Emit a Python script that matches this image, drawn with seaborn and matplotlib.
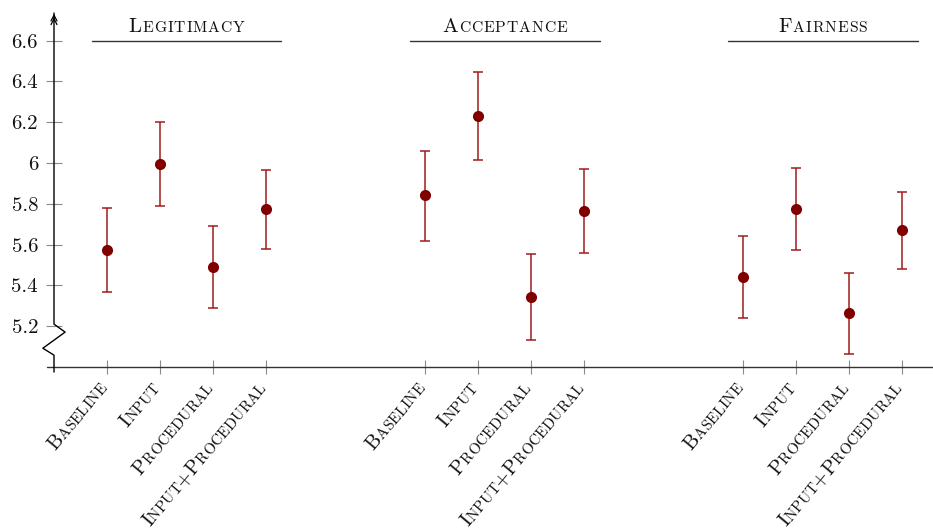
import numpy as np
import pandas as pd
import matplotlib
matplotlib.use("Agg")
import matplotlib.pyplot as plt
import seaborn as sns
from matplotlib.font_manager import FontProperties
from matplotlib.textpath import text_to_path

# data
groups = ["Legitimacy", "Acceptance", "Fairness"]
conditions = ["Baseline", "Input", "Procedural", "Input+Procedural"]

legit_mean = [5.572, 5.996, 5.488, 5.772]
legit_lo = [5.367, 5.788, 5.288, 5.577]
legit_hi = [5.780, 6.199, 5.690, 5.965]

accept_mean = [5.841, 6.228, 5.343, 5.764]
accept_lo = [5.620, 6.013, 5.131, 5.557]
accept_hi = [6.061, 6.444, 5.554, 5.971]

fair_mean = [5.441, 5.775, 5.264, 5.670]
fair_lo = [5.238, 5.573, 5.064, 5.479]
fair_hi = [5.643, 5.976, 5.462, 5.860]

yticks = [5.2, 5.4, 5.6, 5.8, 6.0, 6.2, 6.4, 6.6]
ytick_labels = ["5.2", "5.4", "5.6", "5.8", "6", "6.2", "6.4", "6.6"]

rows = []
for g, (m, lo, hi) in enumerate([(legit_mean, legit_lo, legit_hi),
                                 (accept_mean, accept_lo, accept_hi),
                                 (fair_mean, fair_lo, fair_hi)]):
    for i, c in enumerate(conditions):
        rows.append({"group": groups[g], "condition": c, "pos": 1 + 6 * g + i,
                     "mean": m[i], "lo": lo[i], "hi": hi[i]})
df = pd.DataFrame(rows)

sns.set_theme(style="white")
plt.rcParams["font.family"] = ["cmr10", "DejaVu Serif"]
plt.rcParams["axes.formatter.use_mathtext"] = True

FS = 15
FS_LABEL = 14.5
SMALL = 0.75


def text_width(s, size):
    w, _, _ = text_to_path.get_text_width_height_descent(
        s, FontProperties(family="cmr10", size=size), ismath=False)
    return w


def smallcaps(ax, x, y, word, size=FS, rot=0, ha="left", dx=0, dy=0, track=0.0):
    # fake small caps: lower case letters drawn as smaller capitals, one glyph at a time
    chars = [(ch.upper(), size * SMALL if ch.islower() else size) for ch in word]
    widths = [text_width(t, sz) + track for t, sz in chars]
    total = sum(widths) - track
    c, s = np.cos(np.radians(rot)), np.sin(np.radians(rot))
    pos = -{"left": 0, "center": total / 2, "right": total}[ha]
    for (t, sz), w in zip(chars, widths):
        ax.annotate(t, xy=(x, y), xycoords="data",
                    xytext=(dx + pos * c, dy + pos * s), textcoords="offset points",
                    rotation=rot, rotation_mode="anchor", ha="left", va="baseline",
                    fontsize=sz, color="#111111", annotation_clip=False)
        pos += w


fig = plt.figure(figsize=(9.33, 5.29), dpi=100)
ax = fig.add_axes([54 / 933, (529 - 367) / 529, 1 - 54 / 933, 355 / 529])

ax.errorbar(df["pos"], df["mean"], yerr=[df["mean"] - df["lo"], df["hi"] - df["mean"]],
            fmt="none", ecolor="#a11d1d", elinewidth=1.1, capsize=3.8, capthick=1.1, zorder=2)
sns.scatterplot(data=df, x="pos", y="mean", ax=ax, color="#800000", s=64,
                linewidth=0, zorder=3, legend=False)

ax.set_xlim(0, 16.58)
ax.set_ylim(5.0, 6.74)
for sp in ax.spines.values():
    sp.set_visible(False)

ax.set_yticks(yticks)
ax.set_yticklabels(ytick_labels, fontsize=FS, color="#111111")
ax.set_xticks(df["pos"])
ax.set_xticklabels([])
ax.tick_params(axis="y", direction="inout", length=12, width=0.8, color="#8a8a8a", pad=5.5, left=True)
ax.tick_params(axis="x", direction="inout", length=10, width=0.8, color="#8a8a8a", bottom=True)
ax.set_xlabel("")
ax.set_ylabel("")

# x axis line
ax.plot([-0.13, 16.58], [5.0, 5.0], color="#333333", lw=1.0, clip_on=False, zorder=1)
# y axis with break (zigzag)
ax.plot([0, 0, 0.21, -0.21, 0, 0], [6.735, 5.21, 5.171, 5.092, 5.058, 4.975],
        color="black", lw=1.0, clip_on=False, zorder=1)
for off in [0.0, -0.018]:
    ax.annotate("", xy=(0, 6.745 + off), xytext=(0, 6.70 + off),
                arrowprops=dict(arrowstyle="->,head_length=0.35,head_width=0.18",
                                color="black", lw=0.9), annotation_clip=False)

# group headers
for g, name in enumerate(groups):
    center = 2.5 + 6 * g
    ax.plot([center - 1.79, center + 1.79], [6.6, 6.6], color="#333333", lw=1.0)
    smallcaps(ax, center, 6.6, name, size=FS, ha="center", dy=6.5, track=0.65)

# rotated category labels
for p, c in zip(df["pos"], df["condition"]):
    smallcaps(ax, p, 5.0, c, size=FS_LABEL, rot=50, ha="right", dx=0.5, dy=-15.5, track=0.1)

fig.savefig("out.png", dpi=100)
